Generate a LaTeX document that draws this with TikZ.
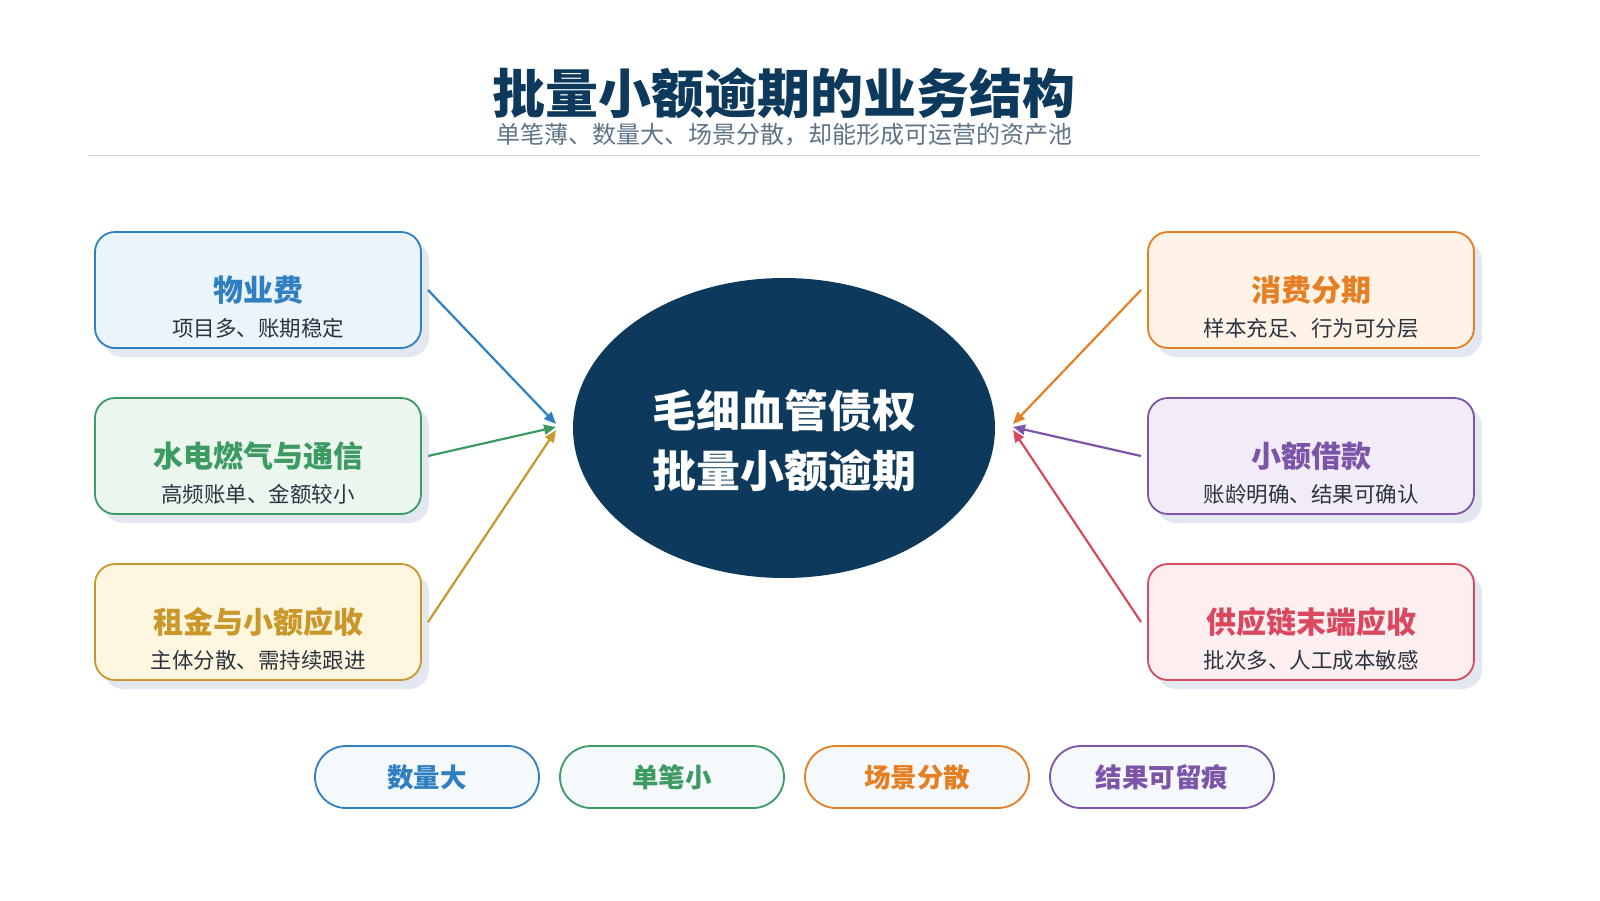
\documentclass[tikz,border=0pt]{standalone}
\usepackage{fontspec}
\setmainfont{Noto Sans CJK SC}
\usetikzlibrary{arrows.meta,shapes.geometric}
\definecolor{navy}{HTML}{0D3A5C}
\definecolor{cb}{HTML}{2F7FC1}\definecolor{fb}{HTML}{EAF4FB}
\definecolor{cg}{HTML}{3D9A63}\definecolor{fg}{HTML}{EAF6EE}
\definecolor{cy}{HTML}{C9972A}\definecolor{fy}{HTML}{FFF6DF}
\definecolor{co}{HTML}{E67E22}\definecolor{fo}{HTML}{FFF3E8}
\definecolor{cp}{HTML}{7D55A8}\definecolor{fp}{HTML}{F2ECF8}
\definecolor{cr}{HTML}{D9485F}\definecolor{fr}{HTML}{FDEEF0}
\definecolor{shd}{HTML}{E3E8F0}
\definecolor{subc}{HTML}{5F7488}
\definecolor{txt}{HTML}{2B3440}
\definecolor{pf}{HTML}{F5F9FC}
\tikzset{
 card/.style={draw=#1,line width=1.8pt,rounded corners=20pt,minimum width=326pt,minimum height=116pt},
 shadowc/.style={fill=shd,rounded corners=20pt,minimum width=326pt,minimum height=116pt,draw=none},
 ctitle/.style={text=#1,font=\bfseries\fontsize{30}{32}\selectfont},
 csub/.style={text=txt,font=\fontsize{21.5}{23}\selectfont},
 pill/.style={draw=#1,line width=1.8pt,fill=pf,rounded corners=31pt,minimum width=224pt,minimum height=62pt,text=#1,font=\bfseries\fontsize{26.5}{28}\selectfont},
 arr/.style={draw=#1,line width=2.2pt,-{Triangle[length=12pt,width=10pt]}}
}
\begin{document}
\begin{tikzpicture}[x=1pt,y=-1pt]
\useasboundingbox (0,0) rectangle (1600,900);
\node[text=navy,font=\bfseries\fontsize{53}{56}\selectfont] (title) at (784,93) {批量小额逾期的业务结构};
\node[text=subc,font=\fontsize{24}{26}\selectfont] (sub) at (784,135) {单笔薄、数量大、场景分散，却能形成可运营的资产池};
\draw[draw=shd!80!gray,line width=1pt] (88,155) coordinate (l1) -- (1480,155) coordinate (l2);
\node[fill=navy,ellipse,minimum width=422pt,minimum height=300pt,inner sep=0pt] (c) at (784,428) {};
\node[text=white,font=\bfseries\fontsize{44}{46}\selectfont,align=center] (ct) at (784,441) {毛细血管债权\\[14pt]批量小额逾期};
\foreach \n/\x/\y/\c/\f/\t/\s in {
 a/258/290/cb/fb/物业费/项目多、账期稳定,
 b/258/456/cg/fg/水电燃气与通信/高频账单、金额较小,
 d/258/622/cy/fy/租金与小额应收/主体分散、需持续跟进,
 e/1311/290/co/fo/消费分期/样本充足、行为可分层,
 f/1311/456/cp/fp/小额借款/账龄明确、结果可确认,
 g/1311/622/cr/fr/供应链末端应收/批次多、人工成本敏感}{
 \node[shadowc] (\n s) at (\x+8,\y+9) {};
 \node[card=\c,fill=\f] (\n) at (\x,\y) {};
 \node[ctitle=\c] (\n t) at (\x,\y) {\t};
 \node[csub] (\n u) at (\x,\y+38) {\s};
}
\coordinate (la) at (556,424);\coordinate (lb) at (556,427);\coordinate (lc) at (556,430);
\coordinate (ra) at (1013,424);\coordinate (rb) at (1013,427);\coordinate (rc) at (1013,430);
\coordinate (sa) at (428,290);\coordinate (sb) at (428,456);\coordinate (sd) at (428,622);
\coordinate (se) at (1141,290);\coordinate (sf) at (1141,456);\coordinate (sg) at (1141,622);
\draw[arr=cb] (sa) -- (la);
\draw[arr=cg] (sb) -- (lb);
\draw[arr=cy] (sd) -- (lc);
\draw[arr=co] (se) -- (ra);
\draw[arr=cp] (sf) -- (rb);
\draw[arr=cr] (sg) -- (rc);
\node[pill=cb] (p1) at (427,777) {\raisebox{-4pt}{数量大}};
\node[pill=cg] (p2) at (672,777) {\raisebox{-4pt}{单笔小}};
\node[pill=co] (p3) at (917,777) {\raisebox{-4pt}{场景分散}};
\node[pill=cp] (p4) at (1162,777) {\raisebox{-4pt}{结果可留痕}};
\end{tikzpicture}
\end{document}
